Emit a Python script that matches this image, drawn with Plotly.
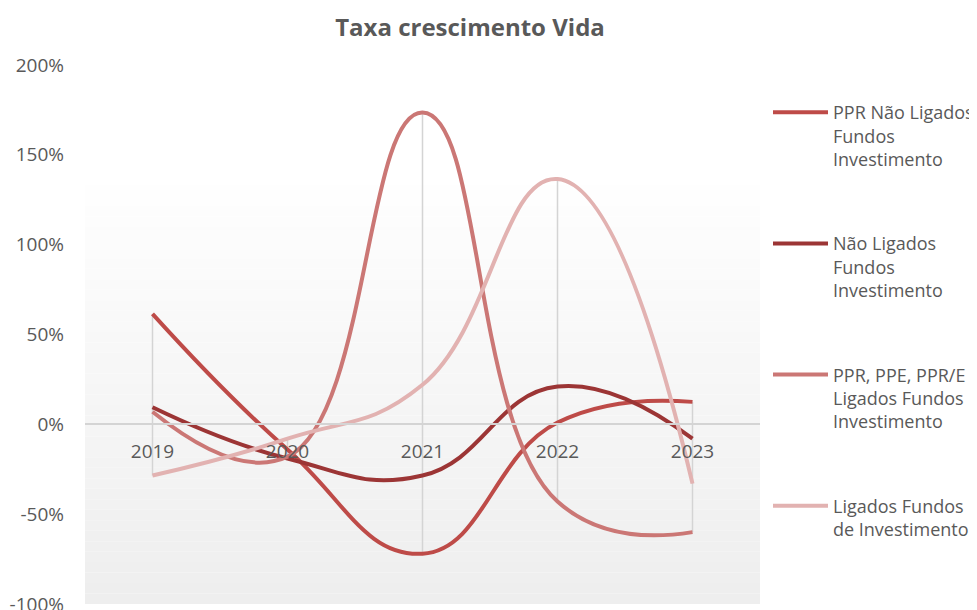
import plotly.graph_objects as go

# Growth rates (%)
years = ["2019", "2020", "2021", "2022", "2023"]
ppr_nao_ligados = [61.5, -14, -72, 1, 12.5]
nao_ligados = [9.5, -19, -28.5, 21, -8]
ppr_ppe_ligados = [7, -18, 173.5, -43, -60]
ligados = [-28.5, -8, 22, 136.5, -33]

y_ticks = [-100, -50, 0, 50, 100, 150, 200]
y_tick_text = [f"{v}%" for v in y_ticks]

series = [
    ("PPR Não Ligados<br>Fundos<br>Investimento", ppr_nao_ligados, "#be4b48"),
    ("Não Ligados<br>Fundos<br>Investimento", nao_ligados, "#9c3535"),
    ("PPR, PPE, PPR/E<br>Ligados Fundos<br>Investimento", ppr_ppe_ligados, "#cb7775"),
    ("Ligados Fundos<br>de Investimento", ligados, "#e2b2b1"),
]

FONT = "'Open Sans', 'Noto Sans', sans-serif"
TEXT_COLOR = "#595959"

# The page body adds an 8px margin, so the figure is laid out in
# coordinates shifted by 8px from the 977x610 window.
OFF = 8
W, H = 977 - OFF, 610 - OFF
PLOT_L, PLOT_R, PLOT_T, PLOT_B = 85 - OFF, 760 - OFF, 65 - OFF, 604 - OFF
PLOT_H = PLOT_B - PLOT_T
PLOT_W = PLOT_R - PLOT_L

fig = go.Figure()

# Vertical gradient in the plot area (white -> light grey), as thin bands
GRAD_TOP = 185 - OFF
n_bands = 40
for i in range(n_bands):
    y0 = GRAD_TOP + (PLOT_B - GRAD_TOP) * i / n_bands
    y1 = GRAD_TOP + (PLOT_B - GRAD_TOP) * (i + 1) / n_bands
    g = round(254 - (254 - 238) * i / (n_bands - 1))
    fig.add_shape(
        type="rect", xref="paper", yref="paper", layer="below",
        x0=0, x1=1,
        y0=(PLOT_B - y1) / PLOT_H, y1=(PLOT_B - y0) / PLOT_H,
        fillcolor=f"rgb({g},{g},{g})", line_width=0,
    )

# High-low lines: from the highest to the lowest value in each category
hl_x, hl_y = [], []
for i, yr in enumerate(years):
    vals = [s[1][i] for s in series]
    hl_x += [yr, yr, None]
    hl_y += [max(vals), min(vals), None]
fig.add_trace(
    go.Scatter(
        x=hl_x, y=hl_y, mode="lines", showlegend=False, hoverinfo="skip",
        line=dict(color="#d4d4d4", width=1.5),
    )
)

for i, (name, vals, color) in enumerate(series):
    fig.add_trace(
        go.Scatter(
            x=years, y=vals, name=name, mode="lines", legendgroup=f"g{i}",
            line=dict(color=color, width=4, shape="spline", smoothing=1.3),
        )
    )

zero_pos = (0 - y_ticks[0]) / (y_ticks[-1] - y_ticks[0])

fig.update_layout(
    width=W, height=H,
    margin=dict(l=PLOT_L, r=W - PLOT_R, t=PLOT_T, b=H - PLOT_B, autoexpand=False),
    paper_bgcolor="white",
    plot_bgcolor="rgba(0,0,0,0)",
    font=dict(family=FONT, size=19, color=TEXT_COLOR),
    title=dict(
        text="<b>Taxa crescimento Vida</b>",
        xref="container", yref="container",
        x=(470 - OFF) / W, y=1 - (28 - OFF) / H, xanchor="center", yanchor="middle",
        font=dict(family=FONT, size=24, color=TEXT_COLOR),
    ),
    xaxis=dict(
        type="category", range=[-0.5, 4.5],
        anchor="free", position=zero_pos, automargin=False,
        showline=True, linecolor="#d4d4d4", linewidth=1.5,
        showgrid=False, ticks="", zeroline=False,
        ticklabelstandoff=10,
        tickfont=dict(size=19, color=TEXT_COLOR),
    ),
    yaxis=dict(
        range=[y_ticks[0], y_ticks[-1]], automargin=False,
        tickmode="array", tickvals=y_ticks, ticktext=y_tick_text,
        showgrid=False, zeroline=False, showline=False, ticks="",
        ticklabelstandoff=20, ticklabeloverflow="allow",
        tickfont=dict(size=19, color=TEXT_COLOR),
    ),
    legend=dict(
        x=(760 - PLOT_L) / PLOT_W, xanchor="left",
        y=(PLOT_B - (94 - OFF)) / PLOT_H, yanchor="top",
        valign="top", itemwidth=55, tracegroupgap=58,
        font=dict(size=18, color=TEXT_COLOR),
        bgcolor="rgba(0,0,0,0)",
    ),
    showlegend=True,
)

fig.write_html("out.html")
